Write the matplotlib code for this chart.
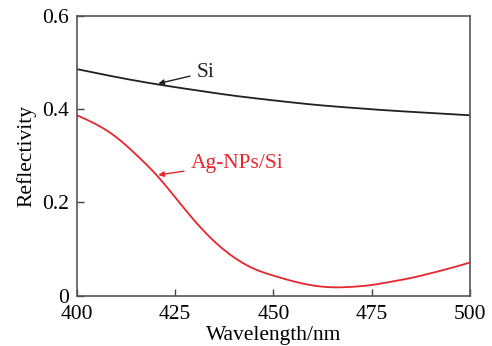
import matplotlib.pyplot as plt
import numpy as np

plt.rcParams['font.family'] = ['Liberation Serif', 'DejaVu Serif']

# reflectivity
wl_si = [400, 410, 420, 430, 440, 450, 460, 470, 480, 490, 500]
refl_si = [0.486, 0.469, 0.454, 0.441, 0.429, 0.419, 0.410, 0.403, 0.397, 0.392, 0.387]

wl_ag = [400, 405, 410, 415, 420, 425, 430, 435, 440, 445, 450,
         455, 460, 465, 470, 475, 480, 485, 490, 495, 500]
refl_ag = [0.387, 0.367, 0.340, 0.303, 0.261, 0.211, 0.160, 0.116, 0.082, 0.058, 0.043,
           0.031, 0.022, 0.018, 0.019, 0.023, 0.030, 0.038, 0.048, 0.059, 0.071]

xticks = [400, 425, 450, 475, 500]
yticks = [0, 0.2, 0.4, 0.6]
ytick_labels = ["0", "0.2", "0.4", "0.6"]


def spline(x, y, xs):
    # natural cubic spline, just to smooth the read-off points
    x = np.asarray(x, float)
    y = np.asarray(y, float)
    n = len(x)
    h = np.diff(x)
    A = np.zeros((n, n))
    b = np.zeros(n)
    A[0, 0] = A[-1, -1] = 1
    for i in range(1, n - 1):
        A[i, i - 1] = h[i - 1]
        A[i, i] = 2 * (h[i - 1] + h[i])
        A[i, i + 1] = h[i]
        b[i] = 3 * ((y[i + 1] - y[i]) / h[i] - (y[i] - y[i - 1]) / h[i - 1])
    c = np.linalg.solve(A, b)
    idx = np.clip(np.searchsorted(x, xs) - 1, 0, n - 2)
    dx = xs - x[idx]
    bb = (y[idx + 1] - y[idx]) / h[idx] - h[idx] * (2 * c[idx] + c[idx + 1]) / 3
    d = (c[idx + 1] - c[idx]) / (3 * h[idx])
    return y[idx] + bb * dx + c[idx] * dx ** 2 + d * dx ** 3


fig = plt.figure(figsize=(4.92, 3.46), dpi=100)
ax = fig.add_axes([0.1565, 0.1454, 0.7985, 0.8084])

xs = np.linspace(400, 500, 400)
ax.plot(xs, spline(wl_si, refl_si, xs), color='#231f20', lw=1.3)
ax.plot(xs, spline(wl_ag, refl_ag, xs), color='#e8262c', lw=1.3)

ax.set_xlim(400, 500)
ax.set_ylim(0, 0.6)
ax.set_xticks(xticks)
ax.set_yticks(yticks)
ax.set_yticklabels(ytick_labels)
ax.tick_params(direction='in', length=5, width=1, labelsize=15.5, color='#444444', pad=6)
ax.tick_params(axis='x', pad=7)
for s in ax.spines.values():
    s.set_color('#555555')
    s.set_linewidth(1.2)

ax.set_xlabel("Wavelength/nm", fontsize=15.5, labelpad=1)
ax.set_ylabel("Reflectivity", fontsize=15.5, labelpad=4)

ax.annotate("Si", xy=(420.7, 0.455), xytext=(430.5, 0.479), fontsize=15.5,
            color='#231f20', va='center',
            arrowprops=dict(arrowstyle='-|>', color='#231f20', lw=1, mutation_scale=8,
                            shrinkA=3, shrinkB=0))
ax.annotate("Ag-NPs/Si", xy=(420.7, 0.259), xytext=(429.0, 0.284), fontsize=15.5,
            color='#e8262c', va='center',
            arrowprops=dict(arrowstyle='-|>', color='#e8262c', lw=1, mutation_scale=8,
                            shrinkA=3, shrinkB=0))

fig.savefig("out.png", dpi=100)
